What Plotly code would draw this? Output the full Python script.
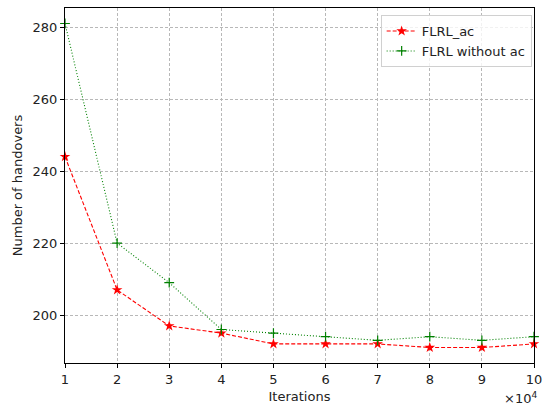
import plotly.graph_objects as go

iterations = [1, 2, 3, 4, 5, 6, 7, 8, 9, 10]  # x 1e4
flrl_ac = [244, 207, 197, 195, 192, 192, 192, 191, 191, 192]
flrl_without_ac = [281, 220, 209, 196, 195, 194, 193, 194, 193, 194]
x_ticks = [1, 2, 3, 4, 5, 6, 7, 8, 9, 10]
y_ticks = [200, 220, 240, 260, 280]

fig = go.Figure()
fig.add_trace(go.Scatter(
    x=iterations, y=flrl_ac, name="FLRL_ac", mode="lines+markers",
    line=dict(color="red", width=1.1, dash="4px,2px"),
    marker=dict(symbol="star", size=8, color="red"), cliponaxis=False,
))
fig.add_trace(go.Scatter(
    x=iterations, y=flrl_without_ac, name="FLRL without ac", mode="lines+markers",
    line=dict(color="green", width=1.1, dash="1px,2px"),
    marker=dict(symbol="cross-thin", size=7, line=dict(color="green", width=1.2)),
    cliponaxis=False,
))

axis_common = dict(
    showgrid=True, gridcolor="#b8b8b8", griddash="3px,2px", gridwidth=1,
    showline=True, linecolor="black", linewidth=1.2,
    ticks="outside", ticklen=4, tickcolor="black",
    tickfont=dict(family="DejaVu Sans", size=13, color="#222222"),
    zeroline=False, ticklabeloverflow="allow",
)
fig.update_xaxes(**axis_common, range=[1, 10], tickvals=x_ticks,
                 ticktext=[str(v) for v in x_ticks], mirror=True,
                 title=dict(text="Iterations", font=dict(family="DejaVu Sans", size=13, color="#222222"), standoff=6))
fig.update_yaxes(**axis_common, range=[186.7, 285.3], tickvals=y_ticks, mirror=True,
                 title=dict(text="Number of handovers", font=dict(family="DejaVu Sans", size=13, color="#222222"), standoff=6))

fig.add_annotation(text="×10<sup>4</sup>", xref="paper", yref="paper", x=1.01, y=-0.07,
                   xanchor="right", yanchor="top", showarrow=False,
                   font=dict(family="DejaVu Sans", size=13, color="#222222"))

fig.update_layout(
    width=545, height=407,
    margin=dict(l=65, r=3, t=8, b=44),
    plot_bgcolor="white", paper_bgcolor="white",
    font=dict(family="DejaVu Sans", size=13, color="#222222"),
    legend=dict(x=0.995, y=0.98, xanchor="right", yanchor="top",
                bgcolor="rgba(255,255,255,0.8)", bordercolor="#d0d0d0", borderwidth=1,
                font=dict(family="DejaVu Sans", size=13), tracegroupgap=0),
    showlegend=True,
)
fig.write_html("out.html")
